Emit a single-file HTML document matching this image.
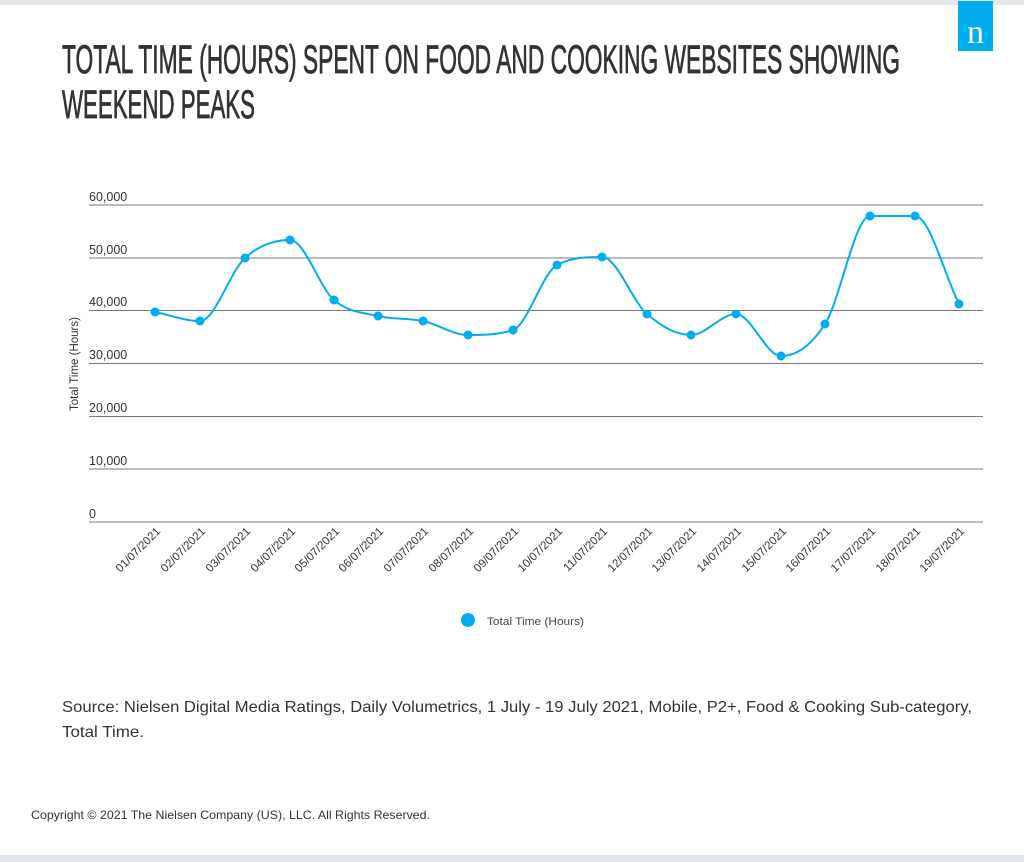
<!DOCTYPE html>
<html><head><meta charset="utf-8"><style>
html,body{margin:0;padding:0;background:#fff;}
body{width:1024px;height:862px;overflow:hidden;position:relative;font-family:"Liberation Sans",sans-serif;}
</style></head><body>
<svg width="1024" height="862" viewBox="0 0 1024 862" xmlns="http://www.w3.org/2000/svg" style="position:absolute;left:0;top:0">
<rect x="0" y="0" width="1024" height="5" fill="#e3e6ea"/>
<rect x="0" y="855" width="1024" height="7" fill="#e3e6ea"/>
<rect x="958" y="1" width="35" height="50" fill="#00aeef"/>
<text x="975.5" y="43" font-family="Liberation Serif,serif" font-size="34" fill="#fff" text-anchor="middle">n</text>
<g font-family="'Liberation Sans Narrow','Liberation Sans',sans-serif" font-size="40" fill="#333" stroke="#333" stroke-width="0.8">
<text x="62" y="73" textLength="838" lengthAdjust="spacingAndGlyphs">TOTAL TIME (HOURS) SPENT ON FOOD AND COOKING WEBSITES SHOWING</text>
<text x="62" y="118" textLength="193" lengthAdjust="spacingAndGlyphs">WEEKEND PEAKS</text>
</g>
<g stroke="#777" stroke-width="1">
<line x1="89" x2="983" y1="205" y2="205"/><line x1="89" x2="983" y1="258" y2="258"/>
<line x1="89" x2="983" y1="310.5" y2="310.5"/><line x1="89" x2="983" y1="363.5" y2="363.5"/>
<line x1="89" x2="983" y1="416.5" y2="416.5"/><line x1="89" x2="983" y1="469" y2="469"/>
<line x1="89" x2="983" y1="522" y2="522"/>
</g>
<g font-size="12.5" fill="#333" font-family="'Liberation Sans',sans-serif">
<text x="89" y="201">60,000</text><text x="89" y="254">50,000</text><text x="89" y="306">40,000</text>
<text x="89" y="359">30,000</text><text x="89" y="412">20,000</text><text x="89" y="465">10,000</text>
<text x="89" y="518">0</text>
<text transform="translate(78,364) rotate(-90)" text-anchor="middle" font-size="11.5">Total Time (Hours)</text>
</g>
<g id="xl" font-size="11.5" fill="#333"></g>
<path id="ln" fill="none" stroke="#00aeef" stroke-width="2"/>
<g id="pts" fill="#00aeef"></g>
<circle cx="468" cy="620" r="7" fill="#00aeef"/>
<text x="487" y="625" font-size="11" fill="#444" textLength="97" lengthAdjust="spacingAndGlyphs">Total Time (Hours)</text>
<g font-size="16" fill="#333">
<text x="62" y="712" textLength="910" lengthAdjust="spacingAndGlyphs">Source: Nielsen Digital Media Ratings, Daily Volumetrics, 1 July - 19 July 2021, Mobile, P2+, Food &amp; Cooking Sub-category,</text>
<text x="62" y="737" textLength="82" lengthAdjust="spacingAndGlyphs">Total Time.</text>
</g>
<text x="31" y="819" font-size="12" fill="#333" textLength="399" lengthAdjust="spacingAndGlyphs">Copyright © 2021 The Nielsen Company (US), LLC. All Rights Reserved.</text>
</svg>
<script>
var P=[[155,312],[200,321],[245,258],[290,240],[334,300],[378,316],[423,321],[468,335],[513,330],[557,265],[602,257],[647,314],[691,335],[736,314],[781,356],[825,324],[870,216],[915,216],[959,304]];
var n=P.length,dl=[],m=[];
for(var i=0;i<n-1;i++)dl.push((P[i+1][1]-P[i][1])/(P[i+1][0]-P[i][0]));
m[0]=dl[0];m[n-1]=dl[n-2];
for(var i=1;i<n-1;i++){m[i]=(dl[i-1]*dl[i]<=0)?0:(dl[i-1]+dl[i])/2;}
for(var i=0;i<n-1;i++){if(dl[i]==0){m[i]=m[i+1]=0;continue;}var a=m[i]/dl[i],b=m[i+1]/dl[i],s=a*a+b*b;if(s>9){var t=3/Math.sqrt(s);m[i]=t*a*dl[i];m[i+1]=t*b*dl[i];}}
var d="M"+P[0][0]+","+P[0][1];
for(var i=0;i<n-1;i++){var h=(P[i+1][0]-P[i][0])/3;
d+=" C"+(P[i][0]+h)+","+(P[i][1]+m[i]*h)+" "+(P[i+1][0]-h)+","+(P[i+1][1]-m[i+1]*h)+" "+P[i+1][0]+","+P[i+1][1];}
document.getElementById("ln").setAttribute("d",d);
var ns="http://www.w3.org/2000/svg",g=document.getElementById("pts"),xl=document.getElementById("xl");
P.forEach(function(p,i){var c=document.createElementNS(ns,"circle");c.setAttribute("cx",p[0]);c.setAttribute("cy",p[1]);c.setAttribute("r",4.5);g.appendChild(c);
var t=document.createElementNS(ns,"text");t.setAttribute("text-anchor","end");t.setAttribute("transform","translate("+(p[0]+6)+",532) rotate(-45)");
t.textContent=(i+1<10?"0":"")+(i+1)+"/07/2021";xl.appendChild(t);});
</script>
</body></html>
